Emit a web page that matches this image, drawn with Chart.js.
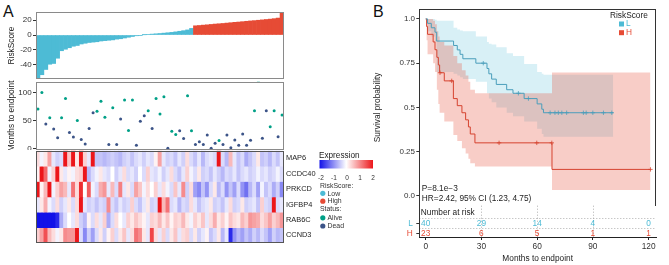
<!DOCTYPE html>
<html>
<head>
<meta charset="utf-8">
<script src="https://cdn.jsdelivr.net/npm/chart.js@4.4.1/dist/chart.umd.min.js"></script>
<style>
  html, body { margin: 0; padding: 0; background: #fff; }
  #fig { position: relative; width: 669px; height: 265px; overflow: hidden; background: #fff;
         font-family: "Liberation Sans", Arial, Helvetica, sans-serif; }
  #fig canvas { position: absolute; }
  .panel { position: absolute; font-size: 16px; line-height: 16px; color: #111; }
</style>
</head>
<body>
<div id="fig">
  <div class="panel" style="left:3px;top:4px">A</div>
  <div class="panel" style="left:373px;top:4px">B</div>
  <canvas id="riskBar" width="300" height="80" style="left:0;top:0"></canvas>
  <canvas id="timeDot" width="300" height="70" style="left:0;top:80px"></canvas>
  <canvas id="heat" width="375" height="95" style="left:0;top:150px"></canvas>
  <canvas id="km" width="299" height="206" style="left:370px;top:0"></canvas>
  <canvas id="risk" width="299" height="60" style="left:370px;top:205px"></canvas>
</div>
<script>
// ---- panel A data (samples sorted by risk score) ----
const riskLow = [-58, -53, -46, -39, -38, -31, -21, -19, -17, -15,
  -14, -12, -11, -10, -9.5, -9, -8, -7.5, -7, -6.5,
  -5.5, -5, -4, -3, -2, -1, -0.5, 0.3, 0.8, 1.2,
  1.6, 2, 2.5, 3, 3.5, 4.2, 5, 5.8, 6.8, 8.8];
const riskHigh = [12.3, 12.7, 13.2, 13.6, 14.1, 14.6, 15.0, 15.4, 15.9, 16.4,
  16.9, 17.3, 17.8, 18.3, 18.8, 19.2, 19.7, 20.2, 20.7, 21.2,
  21.8, 22.6, 30.5];
const riskTicks = [-40, -20, 0, 20];

const months = [71, 100.6, 44, 55, 35, 19, 55, 90, 28.5, 20.6,
  50, 16, 8, 36, 64, 67, 85, 56, 7, 73,
  7, 53, 87, 32, 87, 5.5, 49, 59, 68, 36,
  90, 62, 93, 0, 31, 25, 31.5, 17.6, 95, 31.5,
  7, 12, 7, 24, 0, 9, 14, 7, 24, 1,
  15, 5.5, 26, 5.5, 14.5, 68, 121, 18, 68, 39,
  68, 21, 60];
const status = ['Alive','Alive','Dead','Alive','Dead','Dead','Alive','Alive','Dead','Dead',
  'Alive','Dead','Dead','Dead','Dead','Alive','Alive','Alive','Dead','Alive',
  'Dead','Dead','Alive','Alive','Alive','Dead','Dead','Dead','Alive','Dead',
  'Alive','Alive','Alive','Dead','Alive','Alive','Dead','Dead','Alive','Alive',
  'Dead','Dead','Dead','Dead','Dead','Dead','Alive','Dead','Dead','Dead',
  'Dead','Dead','Dead','Dead','Dead','Alive','Alive','Dead','Dead','Alive',
  'Alive','Dead','Alive'];
const monthTicks = [0, 50, 100];

const genes = ['MAP6', 'CCDC40', 'PRKCD', 'IGFBP4', 'RAB6C', 'CCND3'];
const exprMAP6 = [0.3, -0.1, 0.2, 0.8, -0.2, -0.4, -0.3, 2.2, 0.5, 2.2,
  0.2, 2.2, 0.4, -0.2, 2.2, -0.5, -0.5, -0.6, -0.5, -0.4,
  -0.5, -0.6, -0.4, -0.3, -0.5, -0.3, -0.2, -0.4, -0.2, -0.3,
  0.1, 0.8, -0.2, -0.4, -0.3, -0.5, -0.2, -0.4, 0.3, -0.3,
  -0.5, -0.2, -0.6, -0.3, -0.2, -0.3, 2.2, -0.3, -0.6, 0.6,
  -0.2, -0.5, -0.3, -0.7, -0.5, -0.3, 0.2, -0.5, -0.4, -0.6,
  -0.3, -0.5, -0.2];
const exprCCDC40 = [0.1, 2.0, 1.3, -0.1, 0.4, 2.0, 0.2, -0.2, 0.1, -0.1,
  0.3, 0.4, 2.0, -0.6, -0.3, -0.1, 0.2, -0.2, -0.3, 0.0,
  -0.4, -0.2, 0.3, -0.3, -0.2, -0.4, 0.0, -0.3, 0.4, -0.2,
  -0.3, -0.1, -0.4, -0.2, 0.3, -0.3, -0.5, -0.2, 0.4, -0.1,
  -0.3, 0.2, -0.4, -0.3, -0.5, -0.2, -0.4, -0.6, -0.3, -0.4,
  -0.2, -0.5, -0.3, -0.2, -0.4, -0.3, -0.1, -0.3, -0.2, -0.4,
  -0.3, -0.1, -0.3];
const exprPRKCD = [2.2, 0.1, 0.6, 2.0, -0.1, 0.4, 0.8, 0.6, -0.2, 1.2,
  0.3, 1.8, 0.0, 1.4, -0.1, -0.3, 0.7, 0.9, -0.2, 0.6,
  -0.3, 1.1, -0.2, 0.2, -0.3, 0.8, 0.5, -0.1, 0.3, 0.0,
  0.4, -0.2, 0.3, -0.1, -0.3, 0.5, -0.2, 1.0, -0.4, 0.3,
  -0.8, -1.0, -0.5, -0.9, -0.3, 0.2, -0.6, -0.3, -0.9, -0.5,
  -0.8, -0.3, -0.9, -1.2, -0.6, -0.3, -0.8, -0.1, -0.5, -0.3,
  -0.7, -0.4, -1.0];
const exprIGFBP4 = [-0.2, 0.2, 0.7, -0.1, -0.3, 0.3, -0.4, -0.2, 0.2, -0.3,
  0.3, 2.0, -0.2, -0.4, -0.3, -0.5, -0.3, -0.4, 1.0, -0.3,
  -0.5, -0.2, -0.4, -0.3, 0.4, -0.3, -0.5, -0.2, 0.2, -0.4,
  -0.3, 2.0, 0.6, 1.2, -0.3, -0.2, -0.6, -0.3, -0.4, 0.3,
  -0.2, -0.5, -0.3, -0.2, 0.2, -0.4, -0.3, -0.5, -0.2, 0.3,
  -0.4, -0.3, 0.2, -0.4, -0.3, -0.2, -0.5, 0.4, -0.3, -0.4,
  2.0, -0.3, -0.2];
const exprRAB6C = [-2.2, -2.2, -2.2, -2.2, -2.2, -1.8, -0.7, -0.3, 0.0, -0.2,
  0.3, -0.4, -0.6, 0.1, -0.3, 0.3, -0.2, 0.4, -0.7, -0.3,
  0.3, 0.0, -0.2, 0.4, 0.2, 0.5, 0.3, 0.1, -0.2, 0.4,
  0.3, 0.6, 0.2, 0.5, 0.1, 0.4, 0.3, 0.6, 0.2, -0.1,
  0.4, 0.2, 0.5, -0.2, 0.3, 0.7, 0.2, 0.4, 0.1, 0.5,
  0.3, 0.2, 0.6, 0.4, 0.9, 0.8, 0.7, 0.3, 0.5, 0.8,
  0.4, 0.6, 0.9];
const exprCCND3 = [0.4, 0.8, 1.5, 0.6, 0.3, -0.1, 0.2, 1.0, 0.9, 0.9,
  2.0, -0.3, -1.0, -0.4, -0.8, -0.3, 0.2, -0.4, 0.1, 0.4,
  -0.3, 0.2, 0.5, -0.2, 0.3, 1.2, 1.0, 0.2, -0.2, 1.6,
  0.3, -0.2, 0.4, -0.3, 0.2, 0.5, -0.2, 0.3, 0.4, -0.3,
  0.2, -0.4, -0.2, 0.1, -0.5, -0.3, 0.2, -0.6, -0.2, -1.8,
  -0.9, -0.6, -0.8, -0.5, -0.7, -0.4, -0.6, -0.3, -0.5, -0.8,
  -0.4, -0.6, -0.5];
const colorTicks = [-2, -1, 0, 1, 2];

// ---- panel B data (Kaplan-Meier) ----
const kmTimeL  = [0, 1, 3, 5, 5.9, 15, 17, 18.5, 20, 27, 33, 34, 35.5, 38, 43.6, 47, 53, 60, 62.5, 63.4, 101];
const kmSurvL  = [1, 0.975, 0.95, 0.925, 0.875, 0.85, 0.825, 0.80, 0.775, 0.75, 0.72, 0.69, 0.66, 0.63, 0.60, 0.58, 0.55, 0.52, 0.49, 0.47, 0.47];
const kmLowerL = [1, 0.93, 0.90, 0.87, 0.70, 0.69, 0.68, 0.67, 0.66, 0.645, 0.58, 0.55, 0.53, 0.50, 0.47, 0.45, 0.42, 0.38, 0.35, 0.335, 0.335];
const kmUpperL = [1, 1, 1, 0.995, 0.99, 0.95, 0.94, 0.935, 0.93, 0.90, 0.87, 0.86, 0.855, 0.84, 0.806, 0.79, 0.745, 0.70, 0.69, 0.684, 0.684];
const censorL  = [31, 49.9, 55.3, 67, 69.6, 71.4, 73.3, 75.9, 84.9, 86.4, 90, 95.7, 100.2];

const kmTimeH  = [0, 0.5, 1, 4, 5, 6, 6.8, 7.5, 10, 14.9, 17, 19.5, 21.5, 23, 24, 26.5, 68, 121];
const kmSurvH  = [1, 0.957, 0.913, 0.87, 0.826, 0.783, 0.74, 0.696, 0.65, 0.55, 0.51, 0.47, 0.43, 0.39, 0.35, 0.30, 0.15, 0.15];
const kmLowerH = [1, 0.88, 0.80, 0.75, 0.70, 0.60, 0.52, 0.47, 0.42, 0.345, 0.31, 0.27, 0.24, 0.21, 0.185, 0.166, 0.034, 0.034];
const kmUpperH = [1, 1, 1, 0.99, 0.97, 0.93, 0.90, 0.87, 0.85, 0.79, 0.75, 0.71, 0.68, 0.645, 0.60, 0.58, 0.697, 0.697];
const censorH  = [7.7, 14, 39.5, 59.8, 67.9, 121];

const survTicks = [0, 0.25, 0.5, 0.75, 1];
const survTickLabels = ['0.0', '0.25', '0.5', '0.75', '1.0'];
const atRiskTimes = [0, 30, 60, 90, 120];
const atRiskL = [40, 29, 14, 4, 0];
const atRiskH = [23, 6, 5, 1, 1];

// ---- styling ----
const FONT = '"Liberation Sans", Arial, Helvetica, sans-serif';
const COL_LOW = '#4DBBD5', COL_HIGH = '#E64B35', COL_ALIVE = '#00A087', COL_DEAD = '#3C5488';
const LINE_L = '#4A9EBB', LINE_H = '#D5432F';

Chart.defaults.font.family = FONT;
Chart.defaults.font.size = 8.3;
Chart.defaults.color = '#222';
Chart.defaults.animation = false;
Chart.defaults.responsive = false;
Chart.defaults.maintainAspectRatio = false;
Chart.defaults.events = [];
Chart.defaults.layout.autoPadding = false;
Chart.defaults.plugins.legend.display = false;
Chart.defaults.plugins.tooltip.enabled = false;

function text(ctx, s, x, y, size, color, align) {
  ctx.font = size + 'px ' + FONT;
  ctx.fillStyle = color || '#222';
  ctx.textAlign = align || 'left';
  ctx.textBaseline = 'middle';
  ctx.fillText(s, x, y);
}
function dot(ctx, x, y, r, color) {
  ctx.fillStyle = color;
  ctx.beginPath(); ctx.arc(x, y, r, 0, Math.PI * 2); ctx.fill();
}
function frame(color) {
  return { id: 'frame', afterDraw(chart) {
    const { ctx, chartArea: a } = chart;
    ctx.save();
    ctx.strokeStyle = color; ctx.lineWidth = 1;
    const l = Math.round(a.left), t = Math.round(a.top), r = Math.round(a.right), b = Math.round(a.bottom);
    ctx.strokeRect(l + 0.5, t + 0.5, r - l - 1, b - t - 1);
    ctx.restore();
  } };
}
const fixedTicks = vals => scale => { scale.ticks = vals.map(v => ({ value: v })); };
// fixed axis size, and no extra room reserved for overhanging tick labels
const fitWidth = w => s => { s.width = w; s.paddingTop = 0; s.paddingBottom = 0; };
const fitHeight = h => s => { s.height = h; };

function expColor(v) {
  const t = Math.max(-1, Math.min(1, v / 2));
  const c = t < 0 ? [18, 18, 232] : [236, 22, 26];
  const k = Math.abs(t);
  return 'rgb(' + c.map(x => Math.round(255 + (x - 255) * k)).join(',') + ')';
}
function stepAt(times, vals, t) {
  let v = vals[0];
  for (let i = 0; i < times.length; i++) if (times[i] <= t) v = vals[i];
  return v;
}
const pts = (xs, ys) => xs.map((x, i) => ({ x, y: ys[i] }));

const riskScore = riskLow.concat(riskHigh);
const riskGroup = riskLow.map(() => 'Low').concat(riskHigh.map(() => 'High'));
const sampleIds = riskScore.map((_, i) => 'S' + (i + 1));
const exprRows = [exprMAP6, exprCCDC40, exprPRKCD, exprIGFBP4, exprRAB6C, exprCCND3];

const leftAxis = (width, title, pad) => ({
  afterFit: fitWidth(width),
  grid: { drawOnChartArea: false, tickLength: 3, color: '#333' },
  border: { display: false },
  ticks: { padding: pad, color: '#333', font: { size: 8 } },
  title: { display: !!title, text: title, color: '#222', padding: { top: 6.7, bottom: 0 } }
});

// ---- A: risk score bars ----
new Chart(document.getElementById('riskBar'), {
  type: 'bar',
  data: { labels: sampleIds, datasets: [{
    data: riskScore,
    backgroundColor: riskGroup.map(g => g === 'Low' ? COL_LOW : COL_HIGH),
    borderWidth: 0, barPercentage: 1, categoryPercentage: 1
  }] },
  options: {
    layout: { padding: { top: 12, right: 16, bottom: 1, left: 0 } },
    scales: {
      x: { display: false },
      y: Object.assign(leftAxis(36, 'RiskScore', 1.3), { min: -58.7, max: 30.7, afterBuildTicks: fixedTicks(riskTicks) })
    }
  },
  plugins: [frame('#8a8a8a')]
});

// ---- A: survival time dots ----
new Chart(document.getElementById('timeDot'), {
  type: 'scatter',
  data: { datasets: [{
    data: months.map((m, i) => ({ x: i, y: m })),
    pointBackgroundColor: status.map(s => s === 'Alive' ? COL_ALIVE : COL_DEAD),
    pointBorderWidth: 0, pointRadius: 1.5
  }] },
  options: {
    layout: { padding: { top: 1.7, right: 16, bottom: 0, left: 0 } },
    scales: {
      x: { type: 'linear', min: -0.5, max: riskScore.length - 0.5, display: false },
      y: Object.assign(leftAxis(36, 'Months to endpoint', 1.3), { min: -3, max: 120.2, afterBuildTicks: fixedTicks(monthTicks) })
    }
  },
  plugins: [frame('#8a8a8a')]
});

// ---- A: expression heatmap (stacked unit bars) ----
const heatLegend = { id: 'heatLegend', afterDraw(chart) {
  const ctx = chart.ctx, oy = 150;
  ctx.save();
  text(ctx, 'Expression', 319, 155.5 - oy, 8.2, '#222');
  const g = ctx.createLinearGradient(319.5, 0, 373, 0);
  g.addColorStop(0, expColor(-2)); g.addColorStop(0.5, expColor(0)); g.addColorStop(1, expColor(2));
  ctx.fillStyle = g;
  ctx.fillRect(319.5, 160 - oy, 53.5, 8.5);
  colorTicks.forEach(v => text(ctx, String(v), 321 + (v + 2) / 4 * 52, 178 - oy, 6.5, '#333', 'center'));
  text(ctx, 'RiskScore:', 320, 186 - oy, 6.9, '#333');
  dot(ctx, 322.8, 193.3 - oy, 2.6, COL_LOW);  text(ctx, 'Low', 327.5, 193.6 - oy, 6.9, '#333');
  dot(ctx, 322.8, 201.2 - oy, 2.6, COL_HIGH); text(ctx, 'High', 327.5, 201.5 - oy, 6.9, '#333');
  text(ctx, 'Status:', 320, 209.5 - oy, 6.9, '#333');
  dot(ctx, 322.8, 217.8 - oy, 2.6, COL_ALIVE); text(ctx, 'Alive', 327.5, 218 - oy, 6.9, '#333');
  dot(ctx, 322.8, 226 - oy, 2.6, COL_DEAD);   text(ctx, 'Dead', 327.5, 226.2 - oy, 6.9, '#333');
  ctx.restore();
} };

new Chart(document.getElementById('heat'), {
  type: 'bar',
  data: { labels: sampleIds, datasets: genes.map((g, gi) => ({
    label: g,
    data: sampleIds.map(() => 1),
    backgroundColor: exprRows[gi].map(expColor),
    borderWidth: 0, barPercentage: 1, categoryPercentage: 1
  })) },
  options: {
    layout: { padding: { left: 36, top: 0.7, bottom: 2, right: 0 } },
    scales: {
      x: { stacked: true, display: false },
      y: { stacked: true, display: false, reverse: true, min: 0, max: genes.length },
      gene: {
        type: 'category', labels: genes, position: 'right', offset: true,
        grid: { display: false, drawTicks: false }, border: { display: false },
        ticks: { padding: 2, color: '#222', font: { size: 7.4 } },
        afterFit: fitWidth(91)
      }
    }
  },
  plugins: [frame('#555'), heatLegend]
});

// ---- B: Kaplan-Meier ----
const kmDecor = { id: 'kmDecor', afterDraw(chart) {
  const { ctx, chartArea: a } = chart;
  ctx.save();
  ctx.strokeStyle = '#333'; ctx.lineWidth = 1;
  const l = Math.round(a.left), t = Math.round(a.top), r = Math.round(a.right), b = Math.round(a.bottom);
  ctx.strokeRect(l + 0.5, t + 0.5, r - l - 1, b - t);
  text(ctx, 'P=8.1e\u22123', a.left + 2.5, 188.3, 8.3, '#222');
  text(ctx, 'HR=2.42, 95% CI (1.23, 4.75)', a.left + 2.5, 198.3, 8.3, '#222');
  text(ctx, 'RiskScore', 240, 15.8, 8.3, '#222');
  ctx.fillStyle = COL_LOW;  ctx.fillRect(249, 21.5, 5, 5);
  ctx.fillStyle = COL_HIGH; ctx.fillRect(249, 30.2, 5, 5);
  text(ctx, 'L', 256, 24.2, 8.3, COL_LOW);
  text(ctx, 'H', 256, 32.9, 8.3, COL_HIGH);
  ctx.restore();
} };

const band = (xs, ys, fill, bg) => ({
  data: pts(xs, ys), stepped: true, borderWidth: 0, borderColor: 'transparent',
  pointRadius: 0, fill: fill, backgroundColor: bg
});
const censor = (times, xs, ys, color) => ({
  data: times.map(t => ({ x: t, y: stepAt(xs, ys, t) })),
  showLine: false, pointStyle: 'cross', pointRadius: 2.2,
  pointBorderColor: color, pointBorderWidth: 0.8
});

new Chart(document.getElementById('km'), {
  type: 'line',
  data: { datasets: [
    { data: pts(kmTimeL, kmSurvL), stepped: true, borderColor: LINE_L, borderWidth: 1, pointRadius: 0, fill: false },
    { data: pts(kmTimeH, kmSurvH), stepped: true, borderColor: LINE_H, borderWidth: 1, pointRadius: 0, fill: false },
    censor(censorL, kmTimeL, kmSurvL, LINE_L),
    censor(censorH, kmTimeH, kmSurvH, LINE_H),
    band(kmTimeH, kmUpperH, '+1', 'rgba(230,75,53,0.28)'),
    band(kmTimeH, kmLowerH, false),
    band(kmTimeL, kmUpperL, '+1', 'rgba(77,187,213,0.22)'),
    band(kmTimeL, kmLowerL, false)
  ] },
  options: {
    layout: { padding: { top: 9, right: 13, bottom: 0.3, left: 0 } },
    scales: {
      x: { type: 'linear', min: -3.45, max: 124, display: false },
      y: Object.assign(leftAxis(49.3, 'Survival probability', 1.3), {
        min: -0.055, max: 1.056, afterBuildTicks: fixedTicks(survTicks),
        ticks: { padding: 1.3, color: '#333', font: { size: 8 }, callback: (v, i) => survTickLabels[i] },
        title: { display: true, text: 'Survival probability', color: '#222', padding: { top: 3, bottom: 0 } }
      })
    }
  },
  plugins: [kmDecor]
});

// ---- B: number at risk table ----
const ROW_HEAD = 2.33, ROW_L = 1.31, ROW_H = 0.35;
const riskTable = { id: 'riskTable', afterDraw(chart) {
  const { ctx, chartArea: a, scales: { x, y } } = chart;
  ctx.save();
  ctx.strokeStyle = '#9a9a9a'; ctx.lineWidth = 0.8; ctx.setLineDash([1, 2]);
  [1.85, 0.83].forEach(v => {
    const py = Math.round(y.getPixelForValue(v)) + 0.5;
    ctx.beginPath(); ctx.moveTo(a.left, py); ctx.lineTo(a.right, py); ctx.stroke();
  });
  atRiskTimes.slice(1, -1).forEach(t => {
    const px = Math.round(x.getPixelForValue(t)) + 0.5;
    ctx.beginPath(); ctx.moveTo(px, a.top); ctx.lineTo(px, a.bottom); ctx.stroke();
  });
  ctx.setLineDash([]);
  ctx.strokeStyle = '#333'; ctx.lineWidth = 1;
  ctx.beginPath(); ctx.moveTo(Math.round(a.left) + 0.5, a.top); ctx.lineTo(Math.round(a.left) + 0.5, a.bottom); ctx.stroke();
  text(ctx, 'Number at risk', a.left + 1.5, y.getPixelForValue(ROW_HEAD), 8.3, '#222');
  atRiskTimes.forEach((t, i) => {
    text(ctx, String(atRiskL[i]), x.getPixelForValue(t), y.getPixelForValue(ROW_L), 8.3, COL_LOW, 'center');
    text(ctx, String(atRiskH[i]), x.getPixelForValue(t), y.getPixelForValue(ROW_H), 8.3, COL_HIGH, 'center');
  });
  ctx.restore();
} };

new Chart(document.getElementById('risk'), {
  type: 'scatter',
  data: { datasets: [] },
  options: {
    layout: { padding: { top: 0.7, right: 13, bottom: 0, left: 0 } },
    scales: {
      x: {
        type: 'linear', min: -3.45, max: 124, afterBuildTicks: fixedTicks(atRiskTimes),
        afterFit: fitHeight(28),
        grid: { drawOnChartArea: false, tickLength: 3, color: '#222' },
        border: { color: '#222' },
        ticks: { padding: 1.5, color: '#333', font: { size: 8.3 }, maxRotation: 0 },
        title: { display: true, text: 'Months to endpoint', color: '#222', padding: { top: 0, bottom: 1.7 } }
      },
      y: {
        min: 0, max: 3, afterBuildTicks: fixedTicks([ROW_L, ROW_H]),
        afterFit: fitWidth(49.3),
        grid: { drawOnChartArea: false, tickLength: 3, color: '#333' },
        border: { display: false },
        ticks: { padding: 3.5, font: { size: 8.3 },
                 callback: (v, i) => ['L', 'H'][i],
                 color: c => c.index === 0 ? COL_LOW : COL_HIGH }
      }
    }
  },
  plugins: [riskTable]
});
</script>
</body>
</html>
